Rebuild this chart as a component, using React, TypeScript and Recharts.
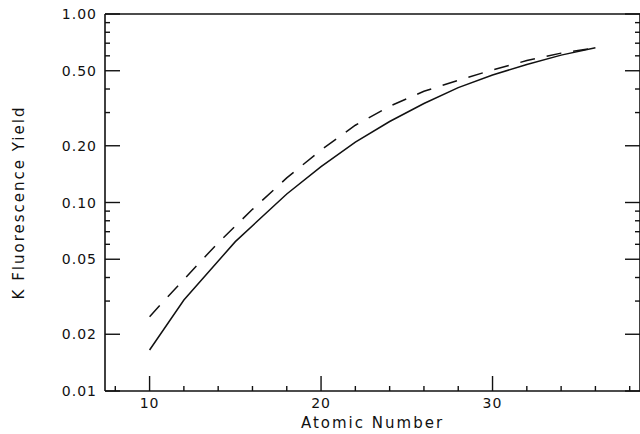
import { LineChart, Line, XAxis, YAxis } from 'recharts';

// atomic number vs K fluorescence yield, two curves
const solidZ = [10, 12, 15, 18, 20, 22, 24, 26, 28, 30, 32, 34, 36];
const solidYield = [0.0165, 0.0304, 0.062, 0.111, 0.155, 0.209, 0.269, 0.335, 0.407, 0.475, 0.54, 0.605, 0.662];

const dashedZ = [10, 11, 12, 13, 14, 15, 16, 18, 20, 22, 24, 26, 28, 30, 32, 34, 36];
const dashedYield = [0.0248, 0.0312, 0.039, 0.049, 0.061, 0.075, 0.092, 0.135, 0.19, 0.257, 0.324, 0.389, 0.445, 0.505, 0.566, 0.62, 0.662];

const X_MAJOR = [10, 20, 30];
const X_MINOR = [8, 12, 14, 16, 18, 22, 24, 26, 28, 32, 34, 36, 38];
const Y_MAJOR = [0.01, 0.02, 0.05, 0.1, 0.2, 0.5, 1];
const Y_MINOR = [0.03, 0.04, 0.06, 0.07, 0.08, 0.09, 0.3, 0.4, 0.6, 0.7, 0.8, 0.9];

const X_DOMAIN: [number, number] = [7.4, 38.6];
const Y_DOMAIN: [number, number] = [0.01, 1];

const INK = '#111';
const FONT = '"DejaVu Sans", sans-serif';

const solidData = solidZ.map((z, i) => ({ z, y: solidYield[i] }));
const dashedData = dashedZ.map((z, i) => ({ z, y: dashedYield[i] }));

const xTicks = [...X_MAJOR, ...X_MINOR].sort((a, b) => a - b);
const yTicks = [...Y_MAJOR, ...Y_MINOR].sort((a, b) => a - b);

const isMajorX = (v: number) => X_MAJOR.includes(v);
const isMajorY = (v: number) => Y_MAJOR.some(m => Math.abs(m - v) < 1e-9);

function BottomTick({ x, y, payload }: any) {
  const major = isMajorX(payload.value);
  return (
    <g>
      <line x1={x} x2={x} y1={y} y2={y - (major ? 15 : 5)} stroke={INK} strokeWidth={1.4} />
      {major && (
        <text x={x} y={y + 17} textAnchor="middle" fill={INK} fontSize={14} fontFamily={FONT} letterSpacing={1}>
          {payload.value}
        </text>
      )}
    </g>
  );
}

function TopTick({ x, y, payload }: any) {
  const major = isMajorX(payload.value);
  return <line x1={x} x2={x} y1={y} y2={y + (major ? 14 : 5)} stroke={INK} strokeWidth={1.4} />;
}

function LeftTick({ x, y, payload }: any) {
  const major = isMajorY(payload.value);
  return (
    <g>
      <line x1={x} x2={x + (major ? 15 : 5)} y1={y} y2={y} stroke={INK} strokeWidth={1.4} />
      {major && (
        <text x={x - 8} y={y + 5} textAnchor="end" fill={INK} fontSize={14} fontFamily={FONT} letterSpacing={1}>
          {payload.value.toFixed(2)}
        </text>
      )}
    </g>
  );
}

function RightTick({ x, y, payload }: any) {
  const major = isMajorY(payload.value);
  return <line x1={x - (major ? 15 : 5)} x2={x} y1={y} y2={y} stroke={INK} strokeWidth={1.4} />;
}

function YTitle({ viewBox }: any) {
  const cy = viewBox.y + viewBox.height / 2;
  return (
    <text
      x={24}
      y={cy}
      transform={`rotate(-90, 24, ${cy})`}
      textAnchor="middle"
      fill={INK}
      fontSize={15}
      fontFamily={FONT}
      letterSpacing={2}
    >
      K Fluorescence Yield
    </text>
  );
}

function XTitle({ viewBox }: any) {
  const cx = viewBox.x + viewBox.width / 2;
  return (
    <text x={cx} y={428} textAnchor="middle" fill={INK} fontSize={15} fontFamily={FONT} letterSpacing={2}>
      Atomic Number
    </text>
  );
}

export default function App() {
  const axisLine = { stroke: INK, strokeWidth: 1.6 };
  return (
    <div style={{ position: 'absolute', left: 0, top: 0, width: 640, height: 434, overflow: 'hidden', background: '#fff' }}>
      <LineChart width={642} height={434} margin={{ top: 0, right: 0, bottom: 0, left: 0 }}>
        <XAxis
          dataKey="z"
          type="number"
          domain={X_DOMAIN}
          allowDataOverflow
          ticks={xTicks}
          interval={0}
          tickSize={0}
          tickMargin={0}
          tickLine={false}
          tick={<BottomTick />}
          axisLine={axisLine}
          height={43}
          label={<XTitle />}
        />
        <XAxis
          xAxisId="top"
          orientation="top"
          type="number"
          domain={X_DOMAIN}
          allowDataOverflow
          ticks={xTicks}
          interval={0}
          tickSize={0}
          tickMargin={0}
          tickLine={false}
          tick={<TopTick />}
          axisLine={axisLine}
          height={14}
        />
        <YAxis
          type="number"
          scale="log"
          domain={Y_DOMAIN}
          allowDataOverflow
          ticks={yTicks}
          interval={0}
          tickSize={0}
          tickMargin={0}
          tickLine={false}
          tick={<LeftTick />}
          axisLine={axisLine}
          width={105}
          label={<YTitle />}
        />
        <YAxis
          yAxisId="right"
          orientation="right"
          type="number"
          scale="log"
          domain={Y_DOMAIN}
          allowDataOverflow
          ticks={yTicks}
          interval={0}
          tickSize={0}
          tickMargin={0}
          tickLine={false}
          tick={<RightTick />}
          axisLine={axisLine}
          width={2}
        />
        <Line
          data={solidData}
          dataKey="y"
          type="linear"
          stroke={INK}
          strokeWidth={1.5}
          dot={false}
          isAnimationActive={false}
        />
        <Line
          data={dashedData}
          dataKey="y"
          type="linear"
          stroke={INK}
          strokeWidth={1.5}
          strokeDasharray="15 12"
          dot={false}
          isAnimationActive={false}
        />
      </LineChart>
    </div>
  );
}
